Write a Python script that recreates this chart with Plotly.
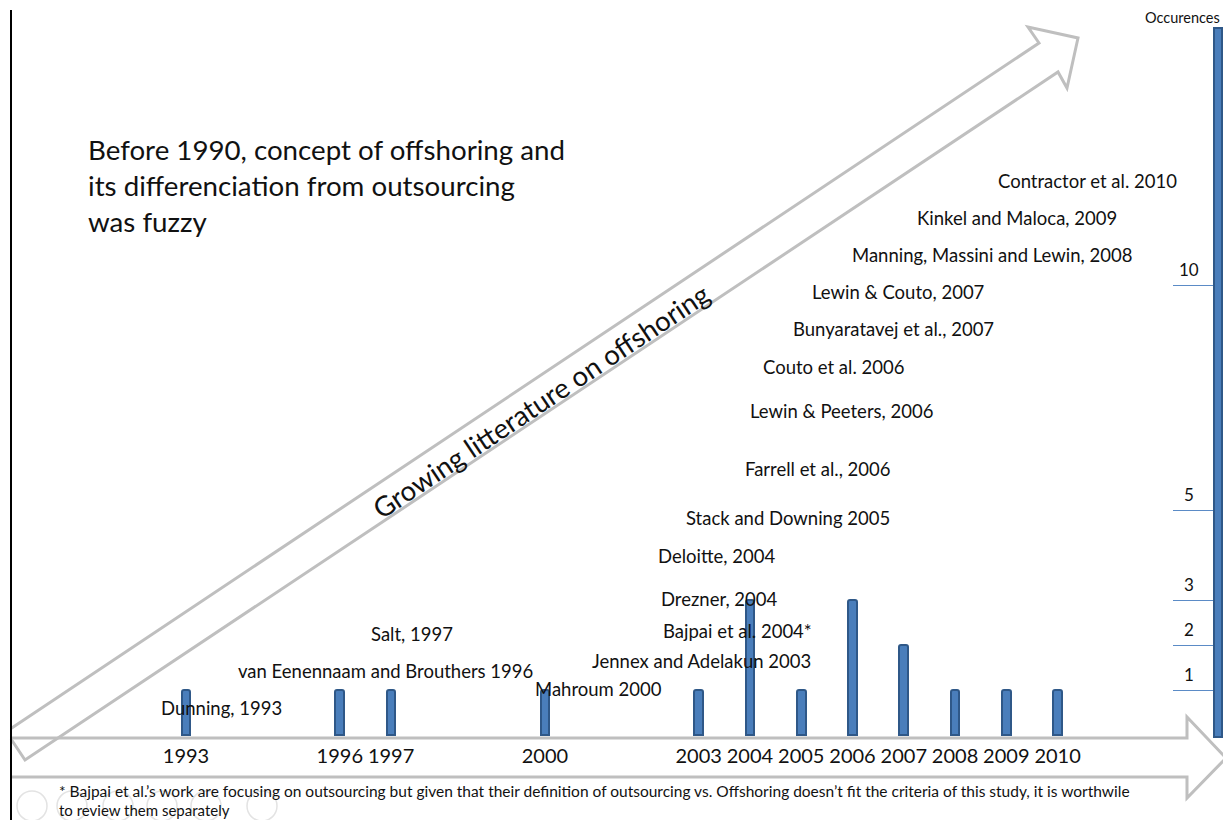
import plotly.graph_objects as go

# ---------------- data ----------------
years = [1993, 1996, 1997, 2000, 2003, 2004, 2005, 2006, 2007, 2008, 2009, 2010]
occurrences = [1, 1, 1, 1, 1, 3, 1, 3, 2, 1, 1, 1]
year_labels = [str(y) for y in years]
scale_ticks = [1, 2, 3, 5, 10]
scale_labels = ["1", "2", "3", "5", "10"]

references = [
    "Dunning, 1993",
    "van Eenennaam and Brouthers 1996",
    "Salt, 1997",
    "Mahroum 2000",
    "Jennex and Adelakun 2003",
    "Bajpai et al. 2004*",
    "Drezner, 2004",
    "Deloitte, 2004",
    "Stack and Downing 2005",
    "Farrell et al., 2006",
    "Lewin & Peeters, 2006",
    "Couto et al. 2006",
    "Bunyaratavej et al., 2007",
    "Lewin & Couto, 2007",
    "Manning, Massini and Lewin, 2008",
    "Kinkel and Maloca, 2009",
    "Contractor et al. 2010",
]

# ---------------- layout helpers ----------------
W, H = 1223, 820
def px(x):
    return x / W
def py(y):
    return 1 - y / H

# label placement (pixel centres) for the reference annotations
ref_pos = [
    (221, 708), (385, 671), (412, 634), (598, 689), (701, 661), (737, 631),
    (719, 599), (717, 556), (788, 518), (818, 469), (841, 411), (834, 367),
    (893, 329), (898, 292), (992, 255), (1017, 218), (1087, 181),
]

PX_PER_YEAR = 51.27
X0_YEAR = 1993 - 186 / PX_PER_YEAR
x_range = [X0_YEAR, X0_YEAR + W / PX_PER_YEAR]
PX_PER_UNIT = 45.0
BASE_PX = 735
y_range = [-(H - BASE_PX) / PX_PER_UNIT, BASE_PX / PX_PER_UNIT]

FONT = "Lato, Carlito, Calibri, sans-serif"
GRAY = "#BFBFBF"
TXT = "#111111"

fig = go.Figure()
fig.add_trace(go.Bar(
    x=years, y=occurrences, width=0.17,
    marker=dict(color="#4A7EBB", line=dict(color="#2F5888", width=2), cornerradius=2),
    showlegend=False, hoverinfo="x+y",
))

shapes = []
# diagonal hollow arrow
diag = [(11, 728.4), (1039, 43), (1028, 27), (1078, 38), (1067, 88), (1058, 72), (25, 760), (11, 739)]
path = "M " + " L ".join(f"{px(a):.5f},{py(b):.5f}" for a, b in diag)
shapes.append(dict(type="path", path=path, xref="paper", yref="paper",
                   line=dict(color=GRAY, width=3), layer="below"))
# bottom hollow arrow (timeline)
bott = [(11, 738), (1187, 738), (1187, 717), (1226, 758), (1187, 798), (1187, 777), (11, 777)]
path2 = "M " + " L ".join(f"{px(a):.5f},{py(b):.5f}" for a, b in bott)
shapes.append(dict(type="path", path=path2, xref="paper", yref="paper",
                   line=dict(color=GRAY, width=3), layer="below"))
# left black edge
shapes.append(dict(type="line", xref="paper", yref="paper", x0=px(11), x1=px(11), y0=py(10), y1=py(821),
                   line=dict(color="#000000", width=2)))
# occurrences axis bar
shapes.append(dict(type="rect", xref="paper", yref="paper", x0=px(1214), x1=px(1222), y0=py(737), y1=py(28),
                   fillcolor="#4A7EBB", line=dict(color="#2F5888", width=2)))
# faint slideshow controls
for cx in [32, 72, 118, 162, 206, 262]:
    r = 15
    shapes.append(dict(type="circle", xref="paper", yref="paper",
                       x0=px(cx - r), x1=px(cx + r), y0=py(806 + r), y1=py(806 - r),
                       line=dict(color="#E3E3E3", width=1.5), layer="below"))

annotations = []
for txt, (cx, cy) in zip(references, ref_pos):
    annotations.append(dict(text=txt, x=px(cx), y=py(cy), xref="paper", yref="paper",
                            showarrow=False, xanchor="center", yanchor="middle",
                            font=dict(family=FONT, size=18.5, color=TXT)))
# scale labels
for v, lab in zip(scale_ticks, scale_labels):
    annotations.append(dict(text=lab, x=px(1189), y=v, xref="paper", yref="y", yshift=16,
                            showarrow=False, xanchor="center", yanchor="middle",
                            font=dict(family=FONT, size=17, color=TXT)))
annotations.append(dict(text="Occurences", x=px(1182), y=py(17), xref="paper", yref="paper",
                        showarrow=False, xanchor="center", yanchor="middle",
                        font=dict(family=FONT, size=14.5, color=TXT)))
# big text block
for i, line in enumerate(["Before 1990, concept of offshoring and",
                          "its differenciation from outsourcing",
                          "was fuzzy"]):
    annotations.append(dict(text=line, x=px(86), y=py(150 + 35.5 * i), xref="paper", yref="paper",
                            showarrow=False, xanchor="left", yanchor="middle",
                            font=dict(family=FONT, size=27.7, color=TXT)))
# diagonal text
annotations.append(dict(text="Growing litterature on offshoring", x=px(540), y=py(401),
                        xref="paper", yref="paper", showarrow=False, textangle=-33.7,
                        xanchor="center", yanchor="middle",
                        font=dict(family=FONT, size=27.6, color=TXT)))
# footnote
annotations.append(dict(text="* Bajpai et al.\u2019s work are focusing on outsourcing but given that their definition of outsourcing vs. Offshoring doesn\u2019t fit the criteria of this study, it is worthwile",
                        x=px(57), y=py(791), xref="paper", yref="paper", showarrow=False,
                        xanchor="left", yanchor="middle",
                        font=dict(family=FONT, size=15.5, color=TXT)))
annotations.append(dict(text="to review them separately",
                        x=px(57), y=py(810), xref="paper", yref="paper", showarrow=False,
                        xanchor="left", yanchor="middle",
                        font=dict(family=FONT, size=15, color=TXT)))

fig.update_layout(
    width=W, height=H, autosize=False,
    margin=dict(l=0, r=0, t=0, b=0, pad=0),
    paper_bgcolor="white", plot_bgcolor="white",
    shapes=shapes, annotations=annotations,
    xaxis=dict(range=x_range, tickvals=years, ticktext=year_labels, showgrid=False,
               zeroline=False, showline=False, ticks="", anchor="free",
               position=py(737), ticklabelstandoff=5, tickangle=0,
               tickfont=dict(family=FONT, size=20, color=TXT), fixedrange=True),
    yaxis=dict(range=y_range, tickvals=scale_ticks, showticklabels=False, showgrid=False,
               zeroline=False, showline=False, ticks="inside", ticklen=41, tickwidth=1,
               tickcolor="#5B8BC6", side="right", anchor="free", position=px(1214),
               fixedrange=True),
    bargap=0,
)

fig.write_html("out.html", config={"displayModeBar": False},
               post_script="document.body.style.margin='0';document.body.style.overflow='hidden';")
